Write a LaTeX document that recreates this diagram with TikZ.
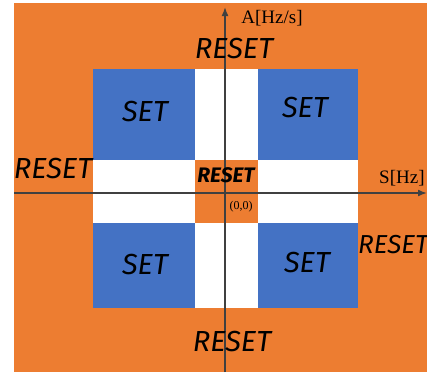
\documentclass[tikz,border=0pt]{standalone}
\usepackage{fontspec}
\setsansfont{Fira Sans}
\newfontfamily\axisfont{Liberation Serif}
\usepackage{tikz}
\usetikzlibrary{arrows.meta,positioning}

\definecolor{resetorange}{HTML}{ED7D31}
\definecolor{setblue}{HTML}{4472C4}
\definecolor{axisgray}{HTML}{404040}

\begin{document}
\begin{tikzpicture}[x=1pt, y=-1pt, >={Latex[length=9pt,width=7pt]},
    region/.style={inner sep=0pt, font=\sffamily\itshape\fontsize{29}{29}\selectfont},
    midlab/.style={inner sep=0pt, font=\sffamily\itshape\bfseries\fontsize{21}{21}\selectfont},
    axlab/.style={inner sep=0pt, font=\axisfont\fontsize{19}{19}\selectfont},
    axis/.style={draw=axisgray, line width=1.6pt}]
    \useasboundingbox (0,0) rectangle (427,372);
    % areas
    \fill[resetorange] (14,3) rectangle (427,372);
    \fill[setblue] (93,69) rectangle (358,308);
    \fill[white] (195,69) rectangle (258,308);
    \fill[white] (93,160) rectangle (358,223);
    \fill[resetorange] (195,160) rectangle (258,223);
    % axes
    \coordinate (xstart) at (14,193);
    \coordinate (xend) at (427,193);
    \coordinate (ystart) at (225,372);
    \coordinate (yend) at (225,7);
    \draw[axis, ->] (xstart) -- (xend);
    \draw[axis, ->] (ystart) -- (yend);
    % labels
    \node[axlab] (alab) at (272,18) {A[Hz/s]};
    \node[axlab, anchor=west] (slab) at (379,178) {S[Hz]};
    \node[region] (rtop) at (234,49) {RESET};
    \node[region] (rleft) at (53,169) {RESET};
    \node[region, anchor=west, font=\sffamily\itshape\fontsize{26}{26}\selectfont] (rright) at (358,245) {RESET};
    \node[region] (rbottom) at (232,342) {RESET};
    \node[midlab] (rmid) at (226,175) {RESET};
    \node[inner sep=0pt, font=\axisfont\fontsize{12}{12}\selectfont] (origin) at (241,207) {(0,0)};
    \node[region] (set1) at (145,112) {SET};
    \node[region] (set2) at (305,108) {SET};
    \node[region] (set3) at (145,265) {SET};
    \node[region] (set4) at (307,263) {SET};
\end{tikzpicture}
\end{document}
